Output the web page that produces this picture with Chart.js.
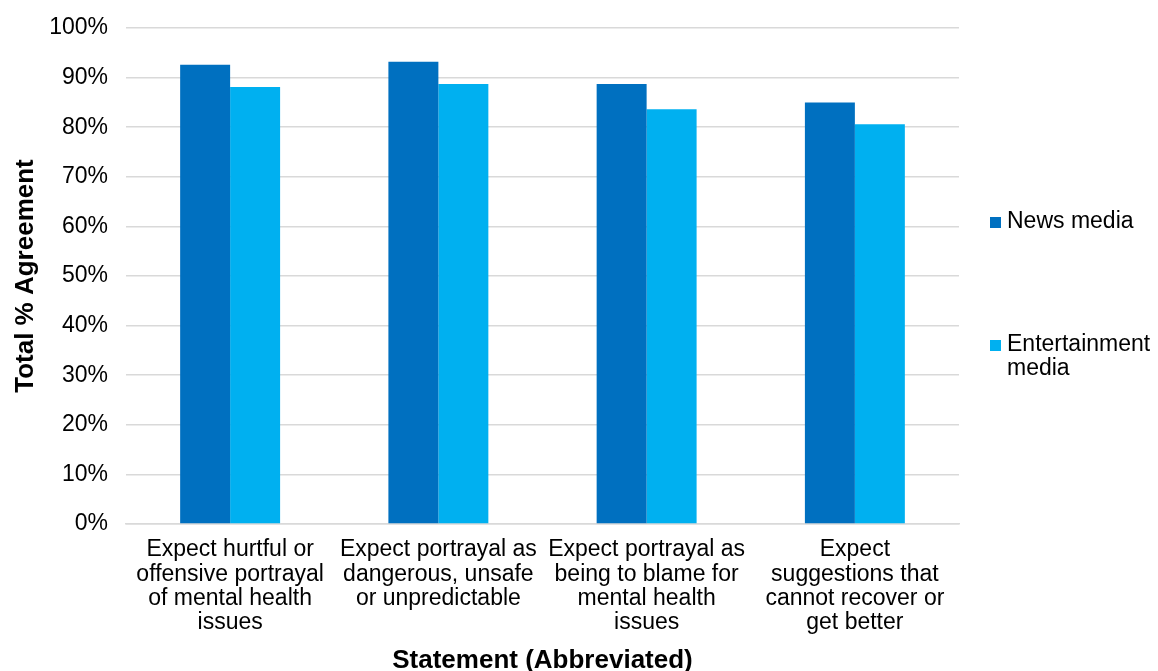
<!DOCTYPE html>
<html>
<head>
<meta charset="utf-8">
<script src="https://cdn.jsdelivr.net/npm/chart.js@4.4.1/dist/chart.umd.min.js"></script>
<style>
  html, body { margin: 0; padding: 0; background: #fff; }
  #wrap { width: 1158px; height: 671px; position: relative; }
</style>
</head>
<body>
<div id="wrap"><canvas id="chart"></canvas></div>
<script>
// ---------- DATA ----------
const categories = [
  ['Expect hurtful or', 'offensive portrayal', 'of mental health', 'issues'],
  ['Expect portrayal as', 'dangerous, unsafe', 'or unpredictable'],
  ['Expect portrayal as', 'being to blame for', 'mental health', 'issues'],
  ['Expect', 'suggestions that', 'cannot recover or', 'get better']
];
const newsMedia = [92.6, 93.2, 88.7, 85.0];
const entertainmentMedia = [88.1, 88.7, 83.6, 80.6];
const seriesNames = ['News media', ['Entertainment', 'media']];
const yTicks = [0, 10, 20, 30, 40, 50, 60, 70, 80, 90, 100];

const FONT = '"Liberation Sans", Arial, Helvetica, sans-serif';
const GRID = '#d9d9d9';

// ---------- LEGEND (drawn on the right, like the original) ----------
const sideLegend = {
  id: 'sideLegend',
  afterDraw(chart) {
    const ctx = chart.ctx;
    const area = chart.chartArea;
    const rows = [222, 345];
    ctx.save();
    ctx.font = '23px ' + FONT;
    ctx.textBaseline = 'middle';
    ctx.textAlign = 'left';
    chart.data.datasets.forEach((ds, i) => {
      const y = rows[i];
      ctx.fillStyle = ds.backgroundColor;
      ctx.fillRect(area.right + 31, y - 5, 11, 11);
      ctx.fillStyle = '#000';
      const lines = Array.isArray(seriesNames[i]) ? seriesNames[i] : [seriesNames[i]];
      lines.forEach((t, k) => ctx.fillText(t, area.right + 48, y + k * 24));
    });
    ctx.restore();
  }
};

new Chart(document.getElementById('chart'), {
  type: 'bar',
  data: {
    labels: categories,
    datasets: [
      { label: 'News media', data: newsMedia, backgroundColor: '#0070C0' },
      { label: 'Entertainment media', data: entertainmentMedia, backgroundColor: '#00B0F0' }
    ]
  },
  options: {
    responsive: true,
    maintainAspectRatio: false,
    animation: false,
    layout: { padding: { top: 28, right: 199, left: 0, bottom: 0 } },
    datasets: { bar: { categoryPercentage: 0.48, barPercentage: 1.0 } },
    plugins: {
      legend: { display: false },
      tooltip: { enabled: false }
    },
    scales: {
      x: {
        grid: { display: false, drawTicks: false },
        border: { color: GRID, width: 1.5 },
        ticks: {
          color: '#000',
          font: { family: FONT, size: 23, lineHeight: 1.05 },
          padding: 14,
          maxRotation: 0,
          autoSkip: false
        },
        title: {
          display: true,
          text: 'Statement (Abbreviated)',
          color: '#000',
          font: { family: FONT, size: 26, weight: 'bold', lineHeight: 0.8 },
          padding: { top: 0, bottom: 0 }
        },
        afterFit(scale) { scale.height = 147; }
      },
      y: {
        min: 0,
        max: 100,
        afterBuildTicks(scale) { scale.ticks = yTicks.map(v => ({ value: v })); },
        grid: { color: GRID, lineWidth: 1.5, drawTicks: false },
        border: { display: false },
        ticks: {
          color: '#000',
          font: { family: FONT, size: 23 },
          padding: 18,
          callback: v => v + '%'
        },
        title: {
          display: true,
          text: 'Total % Agreement',
          color: '#000',
          font: { family: FONT, size: 26, weight: 'bold', lineHeight: 1.2 },
          padding: { top: 10, bottom: 0 }
        },
        afterFit(scale) {
          scale.width = 126;
          scale.paddingTop = 0;
          scale.paddingBottom = 0;
        }
      }
    }
  },
  plugins: [sideLegend]
});
</script>
</body>
</html>
